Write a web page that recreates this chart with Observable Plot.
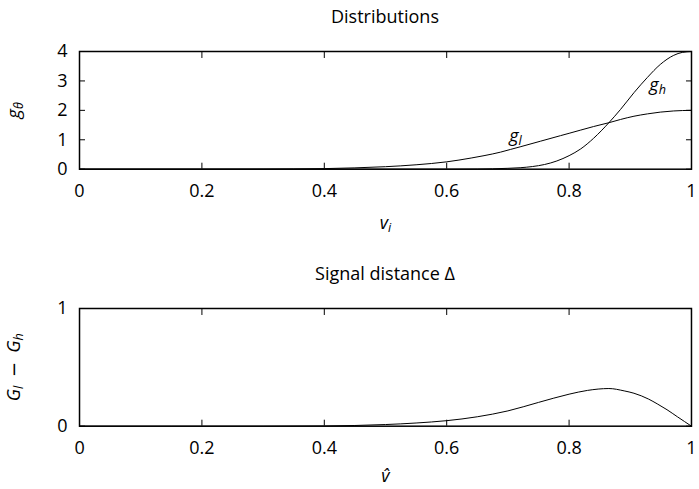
<!DOCTYPE html>
<html><head><meta charset="utf-8">
<script src="https://cdn.jsdelivr.net/npm/d3@7"></script>
<script src="https://cdn.jsdelivr.net/npm/@observablehq/plot@0.6"></script>
<style>
body{margin:0;background:#fff;font-family:"Open Sans",sans-serif;}
.title{height:32px;line-height:32px;font-size:18px;text-align:center;width:612px;margin-left:79px;color:#000;white-space:nowrap;}
svg{display:block}
</style></head><body>
<div id="c"></div>
<script>
const xTicks = [0, 0.2, 0.4, 0.6, 0.8, 1];
const xTickLabels = ["0", "0.2", "0.4", "0.6", "0.8", "1"];
const yTicksTop = [0, 1, 2, 3, 4];
const yTickLabelsTop = ["0", "1", "2", "3", "4"];
const yTicksBottom = [0, 1];
const yTickLabelsBottom = ["0", "1"];

// g_l
const glV = [0, 0.2, 0.3, 0.35, 0.4, 0.45, 0.5, 0.55, 0.6, 0.64, 0.661, 0.688, 0.704, 0.72, 0.753, 0.786, 0.8, 0.819, 0.84, 0.865, 0.884, 0.906, 0.928, 0.949, 0.971, 1];
const glG = [0, 0, 0.002, 0.008, 0.02, 0.045, 0.085, 0.15, 0.25, 0.38, 0.46, 0.58, 0.67, 0.76, 0.95, 1.14, 1.22, 1.33, 1.45, 1.58, 1.69, 1.80, 1.88, 1.94, 1.98, 2.0];
// g_h
const ghV = [0, 0.6, 0.65, 0.7, 0.72, 0.74, 0.76, 0.78, 0.8, 0.819, 0.84, 0.865, 0.884, 0.906, 0.928, 0.949, 0.971, 0.985, 1];
const ghG = [0, 0, 0.005, 0.03, 0.05, 0.09, 0.16, 0.28, 0.46, 0.69, 1.05, 1.58, 2.03, 2.60, 3.12, 3.56, 3.87, 3.97, 4.0];
// G_l - G_h
const dV = [0, 0.3, 0.4, 0.45, 0.5, 0.55, 0.6, 0.65, 0.7, 0.75, 0.8, 0.83, 0.865, 0.89, 0.906, 0.93, 0.944, 0.96, 0.977, 1];
const dG = [0, 0, 0.002, 0.006, 0.014, 0.027, 0.047, 0.08, 0.13, 0.202, 0.272, 0.304, 0.32, 0.30, 0.28, 0.23, 0.19, 0.14, 0.08, 0];

const curveLabels = ["gl", "gh"];
const curveLabelV = [0.7124, 0.9446];
const curveLabelG = [1.11, 2.84];

const titles = ["Distributions", "Signal distance Δ"];

const toRows = (xs, ys) => xs.map((v, i) => ({v, g: ys[i]}));
const fmt = (ticks, labels) => d => labels[ticks.indexOf(d)];

const style = {fontFamily: "Open Sans", fontSize: "18px", color: "black", background: "white", overflow: "visible"};

function frameMarks(yTicks) {
  return [
    Plot.axisX(xTicks, {anchor: "bottom", tickSize: 6, dy: -6, fill: "none", label: null}),
    Plot.axisX(xTicks, {anchor: "top", tickSize: 6, dy: 6, fill: "none", label: null}),
    Plot.axisY(yTicks, {anchor: "left", tickSize: 6, dx: 6, fill: "none", label: null}),
    Plot.axisY(yTicks, {anchor: "right", tickSize: 6, dx: -6, fill: "none", label: null}),
    Plot.frame({stroke: "black", strokeWidth: 1.5})
  ];
}

const p1 = Plot.plot({
  width: 699, height: 225.3, marginTop: 19, marginBottom: 88.6, marginLeft: 79, marginRight: 8,
  style,
  x: {domain: [0, 1]}, y: {domain: [0, 4]},
  marks: [
    Plot.line(toRows(glV, glG), {x: "v", y: "g", curve: "monotone-x", stroke: "black", strokeWidth: 1}),
    Plot.line(toRows(ghV, ghG), {x: "v", y: "g", curve: "monotone-x", stroke: "black", strokeWidth: 1}),
    Plot.text(curveLabels, {x: (d, i) => curveLabelV[i], y: (d, i) => curveLabelG[i], text: d => d}),
    Plot.axisX(xTicks, {anchor: "bottom", tickSize: 0, tickPadding: 15.5, tickFormat: fmt(xTicks, xTickLabels), label: "vi", labelAnchor: "center", labelOffset: 60, labelArrow: "none"}),
    Plot.axisY(yTicksTop, {anchor: "left", tickSize: 0, tickPadding: 12, tickFormat: fmt(yTicksTop, yTickLabelsTop), label: "gθ", labelAnchor: "center", labelOffset: 72, labelArrow: "none"}),
    ...frameMarks(yTicksTop)
  ]
});

const p2 = Plot.plot({
  width: 699, height: 199.7, marginTop: 19, marginBottom: 63, marginLeft: 79, marginRight: 8,
  style,
  x: {domain: [0, 1]}, y: {domain: [0, 1]},
  marks: [
    Plot.line(toRows(dV, dG), {x: "v", y: "g", curve: "monotone-x", stroke: "black", strokeWidth: 1}),
    Plot.axisX(xTicks, {anchor: "bottom", tickSize: 0, tickPadding: 15.5, tickFormat: fmt(xTicks, xTickLabels), label: "v\u0302", labelAnchor: "center", labelOffset: 56, labelArrow: "none"}),
    Plot.axisY(yTicksBottom, {anchor: "left", tickSize: 0, tickPadding: 12, tickFormat: fmt(yTicksBottom, yTickLabelsBottom), label: "GlGh", labelAnchor: "center", labelOffset: 72, labelArrow: "none"}),
    ...frameMarks(yTicksBottom)
  ]
});

const NS = "http://www.w3.org/2000/svg";
function rich(el, parts) {
  el.textContent = "";
  let shifted = false;
  for (const [s, o] of parts) {
    const t = document.createElementNS(NS, "tspan");
    t.textContent = s;
    if (o.includes("i")) t.setAttribute("font-style", "italic");
    if (o.includes("m")) t.setAttribute("font-family", "DejaVu Sans");
    if (o.includes("s")) {
      t.setAttribute("font-size", "70%");
      if (!shifted) { t.setAttribute("dy", "3"); shifted = true; }
    } else if (shifted) {
      t.setAttribute("dy", "-3"); shifted = false;
    }
    el.appendChild(t);
  }
}
const richMap = {
  "vi": [["v", "i"], ["i", "is"]],
  "gθ": [["g", "i"], ["θ", "is"]],
  "v\u0302": [["v\u0302", "i"]],
  "GlGh": [["G", "i"], ["l", "is"], ["\u2002−\u2002", "m"], ["G", "i"], ["h", "is"]],
  "gl": [["g", "i"], ["l", "is"]],
  "gh": [["g", "i"], ["h", "is"]]
};
for (const svg of [p1, p2]) {
  svg.querySelectorAll('g[aria-label="x-axis label"] text, g[aria-label="y-axis label"] text, g[aria-label="text"] text').forEach(el => {
    const k = el.textContent;
    if (richMap[k]) rich(el, richMap[k]);
  });
}

const c = document.getElementById("c");
const t1 = document.createElement("div"); t1.className = "title"; t1.textContent = titles[0];
const t2 = document.createElement("div"); t2.className = "title"; t2.textContent = titles[1];
c.append(t1, p1, t2, p2);
</script>
</body></html>
